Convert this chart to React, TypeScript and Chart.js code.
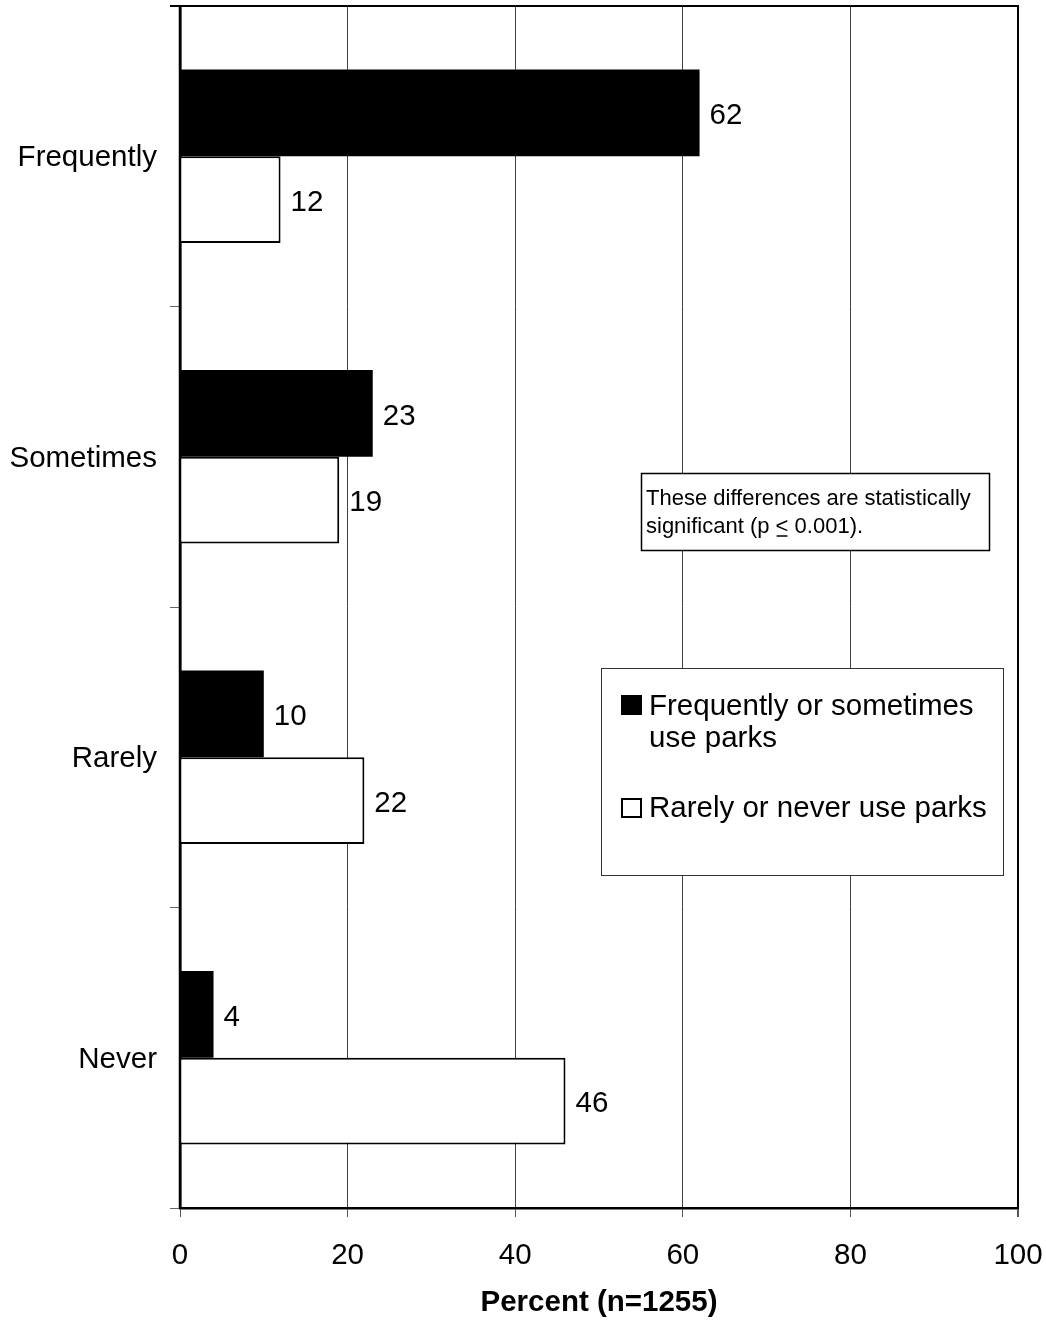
import React, { useEffect, useRef } from "react";
import { Chart, registerables } from "chart.js";

Chart.register(...registerables);

const categories = ["Frequently", "Sometimes", "Rarely", "Never"];
const useParks = [62, 23, 10, 4];
const noParks = [12, 19, 22, 46];
const seriesNames = ["Frequently or sometimes use parks", "Rarely or never use parks"];
const xTicks = [0, 20, 40, 60, 80, 100];
const axisTitle = "Percent (n=1255)";
const noteLines = ["These differences are statistically", "significant (p ", "<", " 0.001)."];

const FONT = "'Liberation Sans', Arial, Helvetica, sans-serif";

const zeroPad = (s: any) => {
  s.paddingLeft = 0;
  s.paddingRight = 0;
  s.paddingTop = 0;
  s.paddingBottom = 0;
};

const overlayPlugin = {
  id: "overlay",
  afterDatasetsDraw(chart: any) {
    const ctx = chart.ctx;
    const area = chart.chartArea;
    ctx.save();
    ctx.strokeStyle = "#000";
    // frame top line
    ctx.lineWidth = 2;
    ctx.beginPath();
    ctx.moveTo(170, area.top);
    ctx.lineTo(area.right + 1, area.top);
    ctx.stroke();
    // left axis line on top of bars
    ctx.lineWidth = 2.5;
    ctx.beginPath();
    ctx.moveTo(area.left, area.top - 1);
    ctx.lineTo(area.left, area.bottom + 1);
    ctx.stroke();
    // value labels
    ctx.font = `29.5px ${FONT}`;
    ctx.fillStyle = "#000";
    ctx.textAlign = "left";
    ctx.textBaseline = "middle";
    chart.data.datasets.forEach((ds: any, di: number) => {
      const meta = chart.getDatasetMeta(di);
      meta.data.forEach((el: any, i: number) => {
        ctx.fillText(String(ds.data[i]), el.x + 10, el.y + 3);
      });
    });
    ctx.restore();
  },
  afterDraw(chart: any) {
    const ctx = chart.ctx;
    ctx.save();
    // note box
    ctx.fillStyle = "#fff";
    ctx.fillRect(641, 473, 349, 78);
    ctx.strokeStyle = "#000";
    ctx.lineWidth = 1.5;
    ctx.strokeRect(641.5, 473.5, 348, 77);
    ctx.fillStyle = "#000";
    ctx.font = `22px ${FONT}`;
    ctx.textAlign = "left";
    ctx.textBaseline = "alphabetic";
    ctx.fillText(noteLines[0], 646, 505);
    let x = 646;
    ctx.fillText(noteLines[1], x, 533);
    x += ctx.measureText(noteLines[1]).width;
    ctx.fillText(noteLines[2], x, 533);
    const w = ctx.measureText(noteLines[2]).width;
    ctx.lineWidth = 1.5;
    ctx.beginPath();
    ctx.moveTo(x + 1, 536);
    ctx.lineTo(x + w - 1, 536);
    ctx.stroke();
    x += w;
    ctx.fillText(noteLines[3], x, 533);

    // legend box
    ctx.fillStyle = "#fff";
    ctx.fillRect(601, 668, 403, 208);
    ctx.strokeStyle = "#333";
    ctx.lineWidth = 1;
    ctx.strokeRect(601.5, 668.5, 402, 207);
    ctx.font = `29.5px ${FONT}`;
    ctx.fillStyle = "#000";
    ctx.fillRect(621, 695, 21, 20);
    ctx.fillText("Frequently or sometimes", 649, 715);
    ctx.fillText("use parks", 649, 747);
    ctx.strokeStyle = "#000";
    ctx.lineWidth = 2;
    ctx.strokeRect(622, 799, 19, 18);
    ctx.fillText(seriesNames[1], 649, 817);
    ctx.restore();
  },
};

export default function App() {
  const ref = useRef<HTMLCanvasElement | null>(null);
  useEffect(() => {
    if (!ref.current) return;
    const chart = new Chart(ref.current, {
      type: "bar",
      data: {
        labels: categories,
        datasets: [
          {
            label: seriesNames[0],
            data: useParks,
            backgroundColor: "#000",
            borderColor: "#000",
            borderWidth: 0,
            categoryPercentage: 0.577,
            barPercentage: 1,
          },
          {
            label: seriesNames[1],
            data: noParks,
            backgroundColor: "#fff",
            borderColor: "#000",
            borderWidth: 2,
            categoryPercentage: 0.577,
            barPercentage: 1,
          },
        ],
      },
      options: {
        indexAxis: "y",
        animation: false,
        responsive: true,
        maintainAspectRatio: false,
        layout: { padding: { top: 6, right: 28, bottom: 0, left: 0 } },
        plugins: { legend: { display: false }, tooltip: { enabled: false } },
        scales: {
          x: {
            min: 0,
            max: 100,
            afterFit: (s: any) => {
              s.height = 114;
              zeroPad(s);
            },
            afterBuildTicks: (s: any) => {
              s.ticks = xTicks.map((v) => ({ value: v }));
            },
            ticks: {
              color: "#000",
              font: { family: FONT, size: 29.5 },
              padding: 21,
            },
            grid: {
              color: (c: any) => (c.tick && c.tick.value === 100 ? "#000" : "#404040"),
              lineWidth: (c: any) => (c.tick && c.tick.value === 100 ? 2 : 1),
              tickLength: 9,
              tickColor: "#555",
            },
            border: { color: "#000", width: 2.5 },
            title: {
              display: true,
              text: axisTitle,
              color: "#000",
              font: { family: FONT, size: 29.5, weight: "bold" },
              padding: { top: 0, bottom: 1 },
            },
          },
          y: {
            afterFit: (s: any) => {
              s.width = 180;
              zeroPad(s);
            },
            ticks: {
              color: "#000",
              font: { family: FONT, size: 29.5 },
              padding: 13,
              labelOffset: 2,
            },
            grid: {
              offset: true,
              drawOnChartArea: false,
              tickLength: 10,
              color: "#666",
            },
            border: { color: "#000", width: 2.5 },
          },
        },
      },
      plugins: [overlayPlugin],
    } as any);
    return () => chart.destroy();
  }, []);
  return (
    <div style={{ position: "absolute", left: 0, top: 0, width: 1046, height: 1322, background: "#fff" }}>
      <canvas ref={ref} />
    </div>
  );
}
